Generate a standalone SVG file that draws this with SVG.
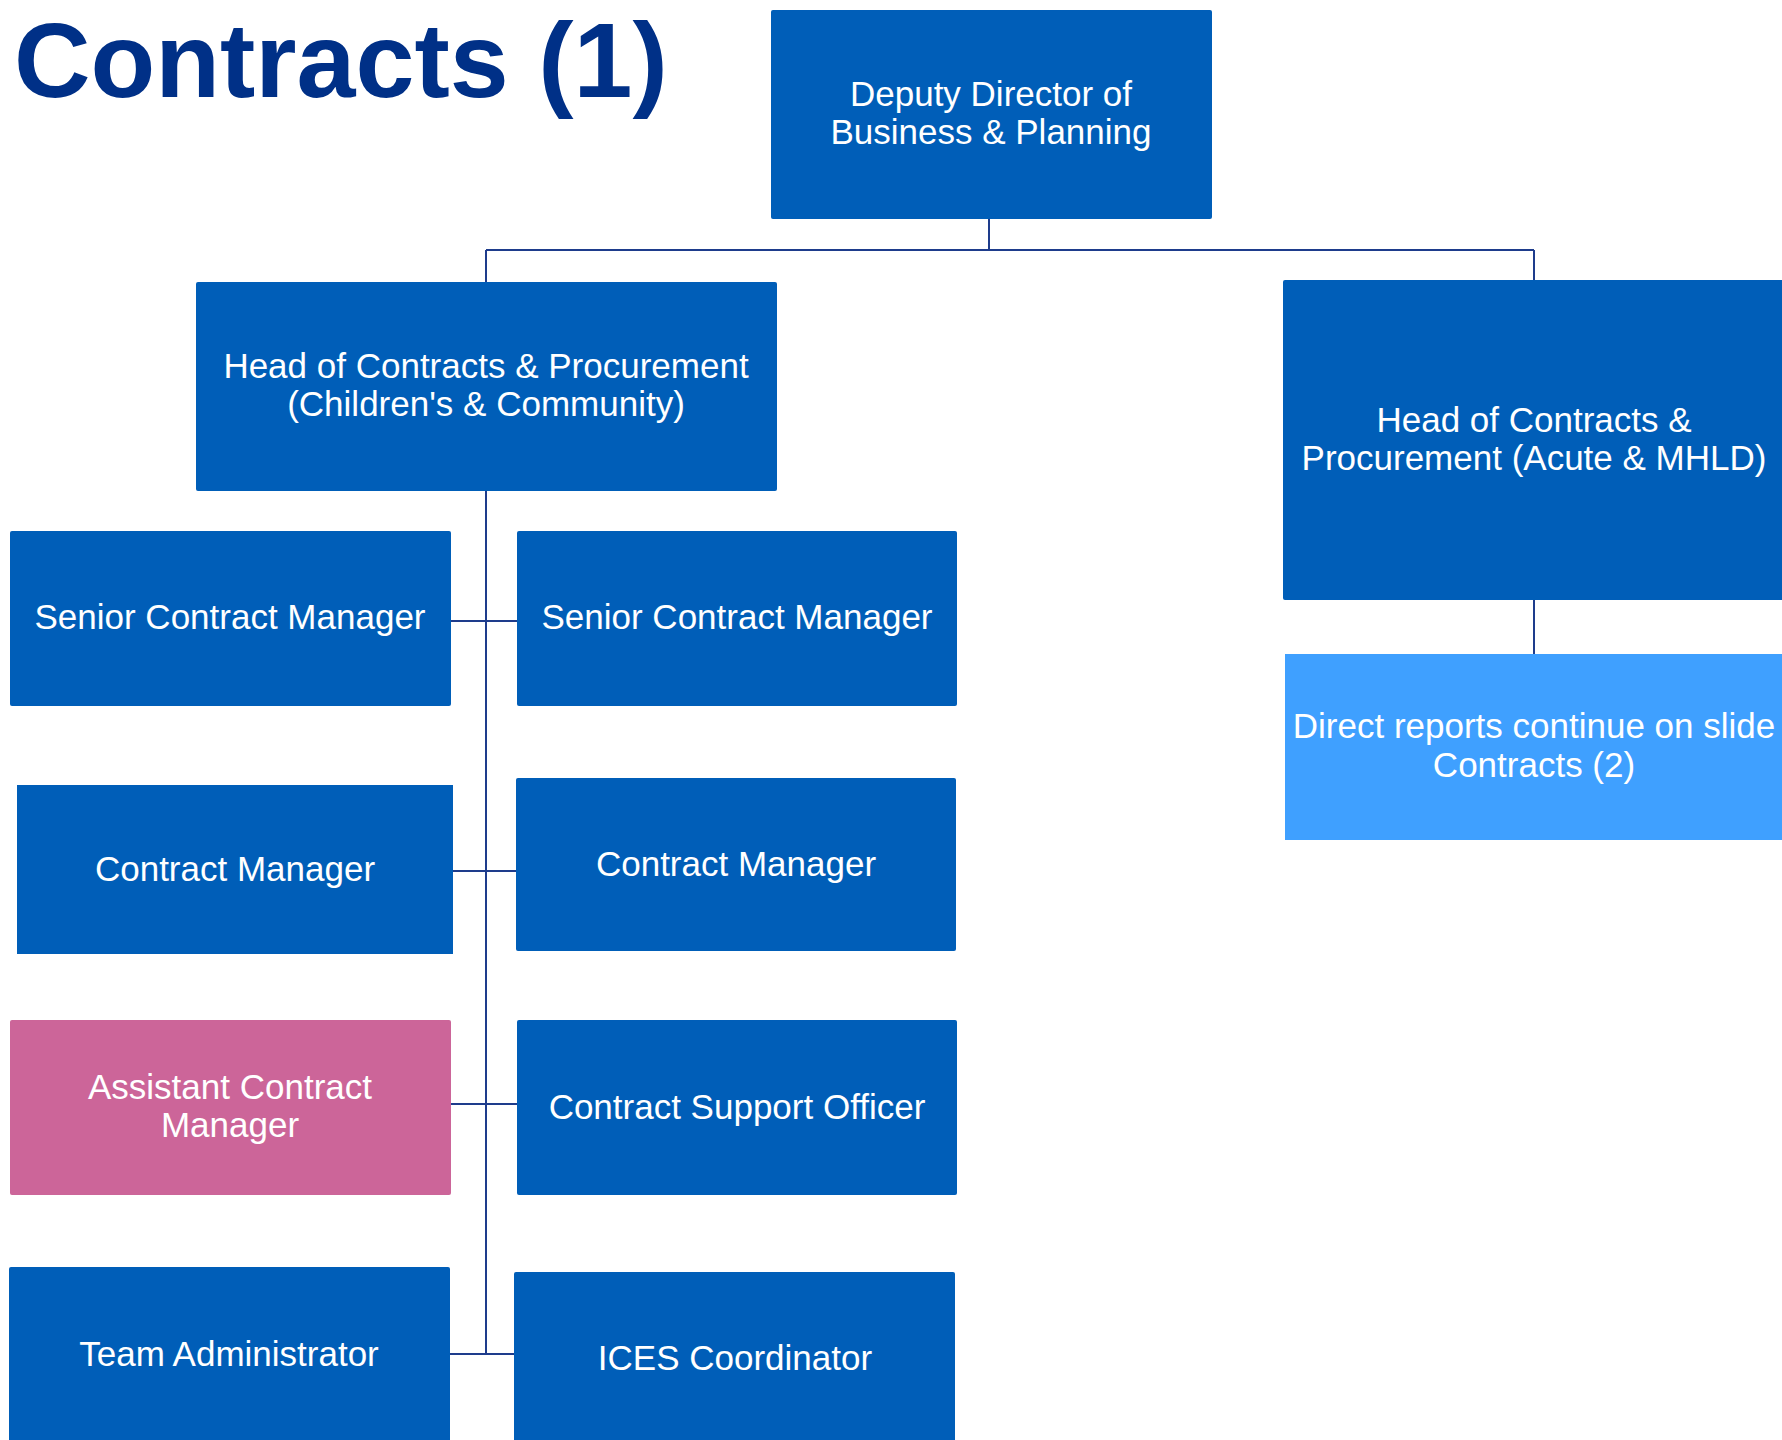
<svg xmlns="http://www.w3.org/2000/svg" width="1782" height="1440" viewBox="0 0 1782 1440">
<style>
.n{fill:#005EB8}
.p{fill:#CC6599}
.l{fill:#3FA0FF}
.t{font-family:"Liberation Sans",Arial,sans-serif;font-size:35px;fill:#FFFFFF;text-anchor:middle}
.c{stroke:#1E3C8C;stroke-width:2;fill:none}
</style>
<rect width="1782" height="1440" fill="#FFFFFF"/>
<text x="14" y="97" font-family="Liberation Sans,Arial,sans-serif" font-size="106" font-weight="bold" fill="#003087">Contracts (1)</text>
<g id="connectors">
<path class="c" d="M989 219V250M486 250H1534M486 250V282M1534 250V280M1534 600V654M486 491V1354M451 621H517M453 871H516M451 1104H517M450 1354H514"/>
</g>
<g id="deputy"><rect class="n" x="771" y="10" width="441" height="209" rx="2"/><text class="t" x="991" y="106">Deputy Director of</text><text class="t" x="991" y="144">Business &amp; Planning</text></g>
<g id="head-cc"><rect class="n" x="196" y="282" width="581" height="209" rx="2"/><text class="t" x="486" y="378">Head of Contracts &amp; Procurement</text><text class="t" x="486" y="416">(Children's &amp; Community)</text></g>
<g id="head-acute"><rect class="n" x="1283" y="280" width="502" height="320" rx="2"/><text class="t" x="1534" y="432">Head of Contracts &amp;</text><text class="t" x="1534" y="470">Procurement (Acute &amp; MHLD)</text></g>
<g id="direct-reports"><rect class="l" x="1285" y="654" width="500" height="186"/><text class="t" x="1534" y="738">Direct reports continue on slide</text><text class="t" x="1534" y="777">Contracts (2)</text></g>
<g id="scm-left"><rect class="n" x="10" y="531" width="441" height="175" rx="2"/><text class="t" x="230" y="629">Senior Contract Manager</text></g>
<g id="scm-right"><rect class="n" x="517" y="531" width="440" height="175" rx="2"/><text class="t" x="737" y="629">Senior Contract Manager</text></g>
<g id="cm-left"><rect class="n" x="17" y="785" width="436" height="169"/><text class="t" x="235" y="881">Contract Manager</text></g>
<g id="cm-right"><rect class="n" x="516" y="778" width="440" height="173" rx="2"/><text class="t" x="736" y="876">Contract Manager</text></g>
<g id="acm"><rect class="p" x="10" y="1020" width="441" height="175" rx="2"/><text class="t" x="230" y="1099">Assistant Contract</text><text class="t" x="230" y="1137">Manager</text></g>
<g id="cso"><rect class="n" x="517" y="1020" width="440" height="175" rx="2"/><text class="t" x="737" y="1119">Contract Support Officer</text></g>
<g id="team-admin"><rect class="n" x="9" y="1267" width="441" height="178" rx="2"/><text class="t" x="229" y="1366">Team Administrator</text></g>
<g id="ices"><rect class="n" x="514" y="1272" width="441" height="178" rx="2"/><text class="t" x="735" y="1370">ICES Coordinator</text></g>
</svg>
